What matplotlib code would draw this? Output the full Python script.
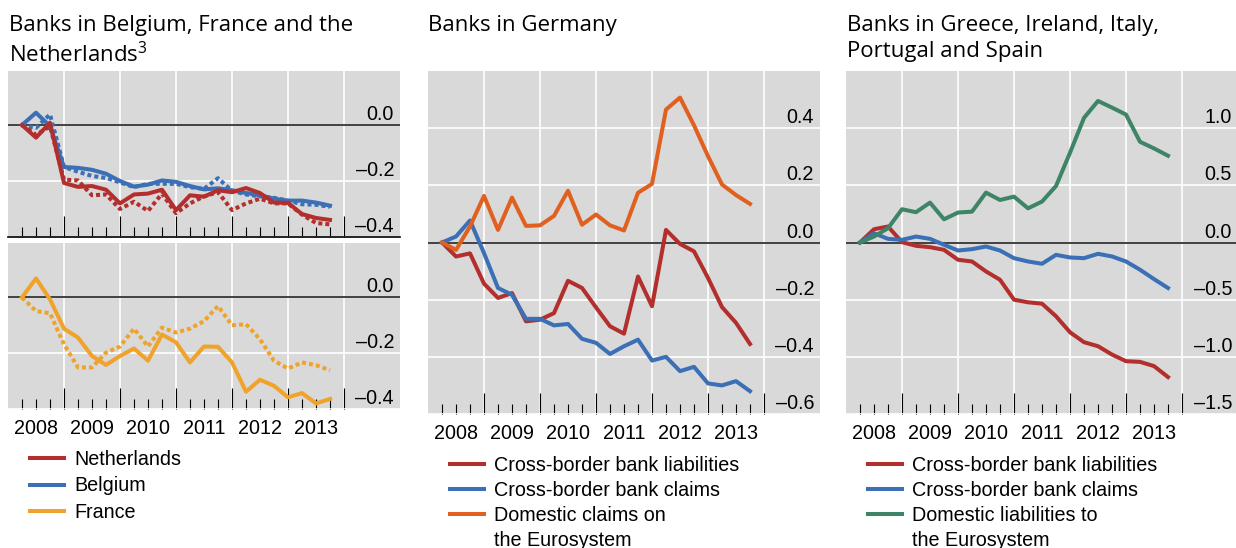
import numpy as np
import pandas as pd
import matplotlib
matplotlib.use("Agg")
import matplotlib.pyplot as plt
import matplotlib.transforms as mtransforms
from matplotlib.lines import Line2D

plt.rcParams["font.family"] = ["Liberation Sans", "DejaVu Sans"]
plt.rcParams["mathtext.default"] = "regular"

#############################################
# DATOS (variación acumulada, billones de euros)
#############################################

quarters = pd.period_range("2008Q1", "2013Q3", freq="Q")
years = [2008, 2009, 2010, 2011, 2012, 2013]

# Bélgica, Francia y Países Bajos (línea continua / punteada)
nl_solid = [0, -0.045, 0.008, -0.207, -0.221, -0.218, -0.231, -0.28, -0.248, -0.245, -0.231, -0.304,
            -0.251, -0.256, -0.233, -0.24, -0.225, -0.243, -0.277, -0.278, -0.318, -0.332, -0.339]
nl_dotted = [0, -0.035, -0.005, -0.195, -0.198, -0.251, -0.248, -0.3, -0.274, -0.307, -0.245, -0.315,
             -0.28, -0.255, -0.24, -0.304, -0.28, -0.263, -0.28, -0.28, -0.32, -0.35, -0.355]
be_solid = [0, 0.044, -0.004, -0.15, -0.153, -0.16, -0.174, -0.2, -0.22, -0.213, -0.198, -0.203,
            -0.218, -0.23, -0.226, -0.233, -0.243, -0.251, -0.263, -0.27, -0.27, -0.277, -0.288]
be_dotted = [0, -0.01, 0.038, -0.15, -0.167, -0.182, -0.189, -0.205, -0.222, -0.21, -0.21, -0.21,
             -0.222, -0.228, -0.19, -0.235, -0.248, -0.255, -0.26, -0.27, -0.283, -0.285, -0.292]
fr_solid = [0, 0.068, -0.007, -0.112, -0.144, -0.21, -0.242, -0.21, -0.183, -0.227, -0.133, -0.161,
            -0.233, -0.176, -0.177, -0.233, -0.338, -0.295, -0.317, -0.358, -0.343, -0.38, -0.364]
fr_dotted = [0, -0.049, -0.057, -0.168, -0.251, -0.251, -0.198, -0.176, -0.112, -0.176, -0.108, -0.126,
             -0.112, -0.085, -0.031, -0.1, -0.096, -0.15, -0.227, -0.255, -0.233, -0.243, -0.261]

# Alemania
de_liab = [0, -0.049, -0.038, -0.144, -0.194, -0.177, -0.276, -0.27, -0.247, -0.134, -0.159, -0.227,
           -0.293, -0.319, -0.119, -0.223, 0.044, -0.005, -0.031, -0.124, -0.226, -0.281, -0.355]
de_claims = [0, 0.021, 0.077, -0.037, -0.159, -0.183, -0.267, -0.267, -0.29, -0.285, -0.337, -0.351,
             -0.39, -0.363, -0.34, -0.413, -0.4, -0.45, -0.435, -0.493, -0.5, -0.485, -0.52]
de_euro = [0, -0.026, 0.056, 0.163, 0.044, 0.157, 0.058, 0.06, 0.093, 0.181, 0.062, 0.098,
           0.06, 0.042, 0.174, 0.205, 0.465, 0.507, 0.41, 0.302, 0.203, 0.166, 0.135]

# Grecia, Irlanda, Italia, Portugal y España
gi_liab = [0, 0.116, 0.14, 0.003, -0.029, -0.041, -0.064, -0.151, -0.166, -0.253, -0.326, -0.5,
           -0.523, -0.535, -0.645, -0.785, -0.872, -0.907, -0.98, -1.038, -1.044, -1.081, -1.177]
gi_claims = [0, 0.081, 0.032, 0.023, 0.052, 0.032, -0.02, -0.07, -0.058, -0.035, -0.07, -0.137,
             -0.166, -0.186, -0.108, -0.131, -0.137, -0.099, -0.122, -0.166, -0.238, -0.32, -0.398]
gi_euro = [0, 0.052, 0.125, 0.291, 0.265, 0.349, 0.203, 0.262, 0.27, 0.436, 0.372, 0.401,
           0.299, 0.358, 0.494, 0.785, 1.09, 1.238, 1.18, 1.119, 0.881, 0.823, 0.759]

left_ticks = [0.0, -0.2, -0.4]
de_ticks = [0.4, 0.2, 0.0, -0.2, -0.4, -0.6]
gi_ticks = [1.0, 0.5, 0.0, -0.5, -1.0, -1.5]

RED = "#b22f2d"
BLUE = "#3b6fb6"
YELLOW = "#f0a32b"
ORANGE = "#e0611f"
GREEN = "#3d8566"
BG = "#d9d9d9"
FS = 14.2

# posición de cada trimestre en años decimales (fin de trimestre)
x = np.array([q.year + q.quarter / 4 for q in quarters])

#############################################
# FUNCIONES DE ESTILO
#############################################

def fmt(v):
    return f"{v:.1f}".replace("-", "\u2013")

def style_panel(ax, ylim, ticks, year_labels=True):
    ax.set_facecolor(BG)
    ax.set_xlim(2008, 2015)
    ax.set_ylim(*ylim)
    for s in ax.spines.values():
        s.set_visible(False)
    ax.set_axisbelow(True)

    ax.set_xticks(range(2009, 2015))
    minor = [y + q / 4 for y in years for q in (1, 2, 3)]
    ax.set_xticks(minor, minor=True)
    ax.set_xticklabels([])
    if year_labels:
        ax.set_xticklabels([str(y) if q == 2 else "" for y in years for q in (1, 2, 3)],
                           minor=True, fontsize=FS)
    else:
        ax.set_xticklabels([], minor=True)
    ax.tick_params(axis="x", which="major", direction="in", length=15, width=0.8, color="black")
    ax.tick_params(axis="x", which="minor", direction="in", length=7.5, width=0.8, color="black",
                   pad=7)

    ax.set_yticks(ticks)
    ax.tick_params(axis="y", length=0, labelleft=False, labelright=False)
    ax.grid(True, color="white", lw=1.2)
    ax.axhline(0, color="#222222", lw=1.2, zorder=2)

    # etiquetas del eje y dentro del panel, encima de cada línea de la rejilla
    trans = mtransforms.offset_copy(ax.get_yaxis_transform(), fig=ax.figure, y=1, units="dots")
    for v in ticks:
        ax.text(0.985, v, fmt(v), transform=trans, ha="right", va="bottom", fontsize=FS, zorder=4)

def add_legend(ax, handles, labels, x0, y0, spacing):
    ax.legend(handles, labels, loc="upper left", bbox_to_anchor=(x0, y0), frameon=False,
              fontsize=FS, handlelength=1.75, handletextpad=0.5, labelspacing=spacing,
              borderpad=0, borderaxespad=0)

#############################################
# FIGURA
#############################################

fig = plt.figure(figsize=(12.36, 5.48), dpi=100)
W, H = 1236, 548

def axes_px(left, top, right, bottom):
    return fig.add_axes([left / W, 1 - bottom / H, (right - left) / W, (bottom - top) / H])

ax_top = axes_px(8, 71, 400, 237)
ax_bot = axes_px(8, 243, 400, 409)
ax_de = axes_px(428, 71, 820, 414)
ax_gi = axes_px(846, 71, 1238, 414)

lw = 2.9
dot = (0, (1, 0.75))
blank = Line2D([], [], color="none")

# Bélgica, Francia y Países Bajos
style_panel(ax_top, (-0.392, 0.193), left_ticks, year_labels=False)
ax_top.spines["bottom"].set_visible(True)
ax_top.spines["bottom"].set_linewidth(1.2)
ax_top.plot(x, be_dotted, color=BLUE, lw=lw, ls=dot, zorder=3)
ax_top.plot(x, nl_dotted, color=RED, lw=lw, ls=dot, zorder=3)
h_be, = ax_top.plot(x, be_solid, color=BLUE, lw=lw, zorder=3)
h_nl, = ax_top.plot(x, nl_solid, color=RED, lw=lw, zorder=3)

style_panel(ax_bot, (-0.4, 0.195), left_ticks)
ax_bot.plot(x, fr_dotted, color=YELLOW, lw=lw, ls=dot, zorder=3)
h_fr, = ax_bot.plot(x, fr_solid, color=YELLOW, lw=lw, zorder=3)
add_legend(ax_bot, [h_nl, h_be, h_fr], ["Netherlands", "Belgium", "France"], 0.056, -0.248, 0.37)

# Alemania
style_panel(ax_de, (-0.6, 0.6), de_ticks)
h1, = ax_de.plot(x, de_liab, color=RED, lw=lw, zorder=3)
h2, = ax_de.plot(x, de_claims, color=BLUE, lw=lw, zorder=3)
h3, = ax_de.plot(x, de_euro, color=ORANGE, lw=lw, zorder=3)
add_legend(ax_de, [h1, h2, h3, blank],
           ["Cross-border bank liabilities", "Cross-border bank claims",
            "Domestic claims on", "the Eurosystem"], 0.056, -0.122, 0.3)

# Grecia, Irlanda, Italia, Portugal y España
style_panel(ax_gi, (-1.5, 1.5), gi_ticks)
g1, = ax_gi.plot(x, gi_liab, color=RED, lw=lw, zorder=3)
g2, = ax_gi.plot(x, gi_claims, color=BLUE, lw=lw, zorder=3)
g3, = ax_gi.plot(x, gi_euro, color=GREEN, lw=lw, zorder=3)
add_legend(ax_gi, [g1, g2, g3, blank],
           ["Cross-border bank liabilities", "Cross-border bank claims",
            "Domestic liabilities to", "the Eurosystem"], 0.056, -0.122, 0.3)

# Títulos de los paneles
title_kw = dict(fontsize=16, family=["Open Sans", "DejaVu Sans"], va="top", linespacing=1.3)
fig.text(9 / W, 1 - 15 / H, "Banks in Belgium, France and the\nNetherlands$^{3}$", **title_kw)
fig.text(428 / W, 1 - 15 / H, "Banks in Germany", **title_kw)
fig.text(847 / W, 1 - 15 / H, "Banks in Greece, Ireland, Italy,\nPortugal and Spain", **title_kw)

fig.savefig("out.png", dpi=100)
